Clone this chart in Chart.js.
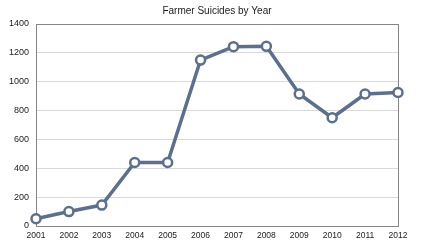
<!DOCTYPE html>
<html>
<head>
<meta charset="utf-8">
<script src="https://cdn.jsdelivr.net/npm/chart.js@4"></script>
<style>
  body { margin: 0; background: #fff; }
  #wrap { width: 425px; height: 248px; }
</style>
</head>
<body>
<div id="wrap"><canvas id="suicideChart" width="425" height="248"></canvas></div>
<script>
// data
const years = ["2001", "2002", "2003", "2004", "2005", "2006", "2007", "2008", "2009", "2010", "2011", "2012"];
const suicides = [50, 100, 145, 440, 440, 1150, 1243, 1245, 915, 750, 915, 925];
const yTicks = [0, 200, 400, 600, 800, 1000, 1200, 1400];

// box round the plot area
const frameBox = {
  id: "frameBox",
  beforeDatasetsDraw(chart) {
    const a = chart.chartArea;
    const ctx = chart.ctx;
    ctx.save();
    ctx.strokeStyle = "#868686";
    ctx.lineWidth = 1;
    ctx.strokeRect(Math.round(a.left) + 0.5, Math.round(a.top) + 0.5, Math.round(a.right - a.left), Math.round(a.bottom - a.top));
    ctx.restore();
  },
};

const ctx = document.getElementById("suicideChart").getContext("2d");
new Chart(ctx, {
  type: "line",
  data: {
    labels: years,
    datasets: [
      {
        label: "Farmer Suicides",
        data: suicides,
        borderColor: "#5c6f8e",
        borderWidth: 3.5,
        pointRadius: 4.5,
        pointBorderWidth: 2.5,
        pointBackgroundColor: "#ffffff",
        pointBorderColor: "#5c6f8e",
        tension: 0,
      },
    ],
  },
  options: {
    responsive: false,
    animation: false,
    layout: { padding: { left: 0, right: 27, top: 0, bottom: 0 } },
    plugins: {
      legend: { display: false },
      tooltip: { enabled: false },
      title: {
        display: true,
        fullSize: false,
        text: "Farmer Suicides by Year",
        color: "#1a1a1a",
        font: { family: "Arial, 'Liberation Sans'", size: 10, weight: "normal" },
        padding: { top: 5, bottom: 7 },
      },
    },
    scales: {
      x: {
        offset: false,
        grid: { display: false, drawTicks: false },
        border: { display: false },
        ticks: {
          color: "#1a1a1a",
          font: { family: "Arial, 'Liberation Sans'", size: 8.5 },
          padding: 5,
          maxRotation: 0,
          autoSkip: false,
        },
        afterFit(scale) { scale.height = 22; },
      },
      y: {
        min: 0,
        max: 1400,
        afterBuildTicks(scale) { scale.ticks = yTicks.map((v) => ({ value: v })); },
        grid: { color: "#d9d9d9", drawTicks: false },
        border: { display: false },
        ticks: {
          color: "#1a1a1a",
          font: { family: "Arial, 'Liberation Sans'", size: 9 },
          padding: 7,
          callback: (v) => String(v),
        },
        afterFit(scale) { scale.width = 36; },
      },
    },
  },
  plugins: [frameBox],
});
</script>
</body>
</html>
